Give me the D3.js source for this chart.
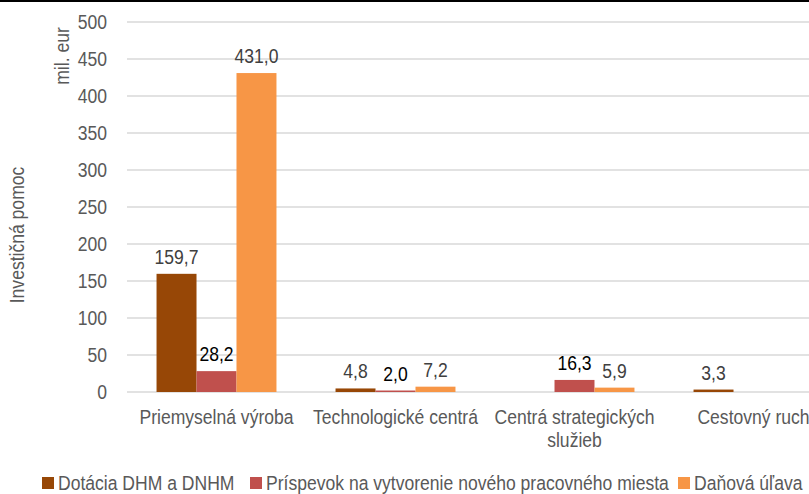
<!DOCTYPE html>
<html><head><meta charset="utf-8">
<script src="https://cdn.jsdelivr.net/npm/d3@7"></script>
<style>
body{margin:0;background:#fff;}
svg text{font-family:"Liberation Sans",Arial,sans-serif;}
</style></head>
<body><svg id="c" width="809" height="494"></svg>
<script>
const categories = ["Priemyselná výroba","Technologické centrá","Centrá strategických služieb","Cestovný ruch"];
const seriesNames = ["Dotácia DHM a DNHM","Príspevok na vytvorenie nového pracovného miesta","Daňová úľava"];
const dotacia = [159.7, 4.8, null, 3.3];
const prispevok = [28.2, 2.0, 16.3, null];
const danova = [431.0, 7.2, 5.9, null];
const yTicks = [0,50,100,150,200,250,300,350,400,450,500];
const colors = ["#974706","#C0504D","#F79646"];
const labelColors = ["#404040","#000000","#404040"];

const FS = 19.5, SX = 0.9;
const series = [dotacia, prispevok, danova];
const svg = d3.select("#c");

function addText(parent, x, y, str, anchor, fill, rot){
  return parent.append("text")
    .attr("transform",`translate(${x},${y})${rot?" rotate("+rot+")":""} scale(${SX},1)`)
    .attr("text-anchor",anchor||"start").attr("font-size",FS).attr("fill",fill||"#595959").text(str);
}

svg.append("line").attr("x1",0).attr("x2",809).attr("y1",1).attr("y2",1)
  .attr("stroke","#000").attr("stroke-width",2);

const y = d3.scaleLinear().domain([0,500]).range([392,22]);
const x0 = d3.scaleBand().domain(categories).range([127,843]).paddingInner(0.33).paddingOuter(0.165);
const x1 = d3.scaleBand().domain(seriesNames).range([0,x0.bandwidth()]);

// grid
svg.append("g").selectAll("line").data(yTicks).join("line")
  .attr("x1",127).attr("x2",809).attr("y1",d=>y(d)).attr("y2",d=>y(d))
  .attr("stroke","#d9d9d9").attr("stroke-width",1.3);

// y axis labels
const yAxis = d3.axisLeft(y).tickValues(yTicks).tickSize(0).tickPadding(0);
const ga = svg.append("g").attr("transform","translate(107,0)").call(yAxis);
ga.select(".domain").remove();
ga.selectAll("text").attr("font-size",FS).attr("fill","#595959")
  .attr("font-family",'"Liberation Sans",Arial,sans-serif')
  .attr("transform",`scale(${SX},1)`);

// bars
seriesNames.forEach((s,i)=>{
  const vals = series[i];
  const g = svg.append("g");
  const data = categories.map((c,j)=>({c,v:vals[j]})).filter(d=>d.v!==null);
  g.selectAll("rect").data(data).join("rect")
    .attr("x",d=>x0(d.c)+x1(s)).attr("width",x1.bandwidth())
    .attr("y",d=>y(d.v)).attr("height",d=>y(0)-y(d.v))
    .attr("fill",colors[i]);
  data.forEach(d=>{
    addText(g, x0(d.c)+x1(s)+x1.bandwidth()/2, y(d.v)-10,
      d3.format(".1f")(d.v).replace(".",","), "middle", labelColors[i]);
  });
});

// category labels
const catLines = {"Centrá strategických služieb":["Centrá strategických","služieb"]};
categories.forEach(c=>{
  const lines = catLines[c]||[c];
  lines.forEach((l,k)=>addText(svg, x0(c)+x0.bandwidth()/2, 424+k*23, l, "middle"));
});

// axis titles
addText(svg, 24, 235, "Investičná pomoc", "middle", "#595959", -90);
addText(svg, 69, 56, "mil. eur", "middle", "#595959", -90);

// legend
const legX = [42,250,678];
seriesNames.forEach((s,i)=>{
  svg.append("rect").attr("x",legX[i]).attr("y",477).attr("width",12).attr("height",12).attr("fill",colors[i]);
  addText(svg, legX[i]+16, 490, s, "start");
});
</script></body></html>
